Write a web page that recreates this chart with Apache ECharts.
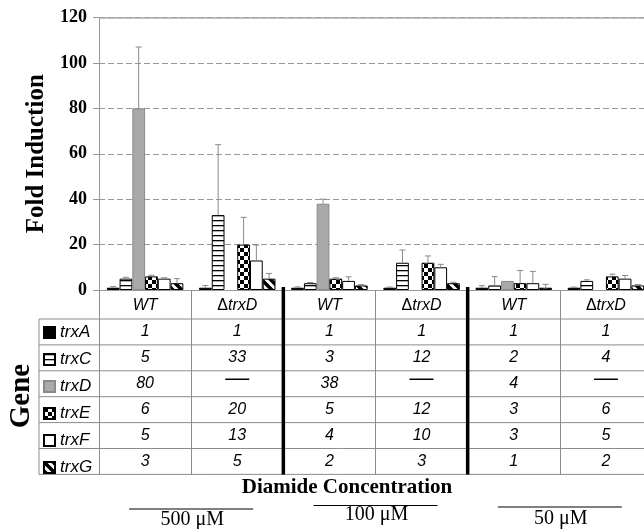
<!DOCTYPE html>
<html><head><meta charset="utf-8">
<script src="https://cdn.jsdelivr.net/npm/echarts@6/dist/echarts.min.js"></script>
<style>html,body{margin:0;padding:0;background:#fff}#c{width:644px;height:529px}</style>
</head><body><div id="c"></div>
<script>
// ---------- data ----------
const categories = ['WT', 'ΔtrxD', 'WT', 'ΔtrxD', 'WT', 'ΔtrxD'];
const genes = ['trxA', 'trxC', 'trxD', 'trxE', 'trxF', 'trxG'];
const trxA = [1, 1, 1, 1, 1, 1];
const trxC = [5, 33, 3, 12, 2, 4];
const trxD = [80, null, 38, null, 4, null];
const trxE = [6, 20, 5, 12, 3, 6];
const trxF = [5, 13, 4, 10, 3, 5];
const trxG = [3, 5, 2, 3, 1, 2];
// upper error (SD) read from the error-bar caps
const errA = [0.5, 1.0, 0.4, 0.3, 0.9, 0.3];
const errC = [0.6, 31, 0.3, 5.6, 3.9, 0.5];
const errD = [27, null, 2, null, 0, null];
const errE = [0.5, 12, 0.4, 3, 5.6, 1];
const errF = [0.4, 6.8, 1.8, 1.3, 5.2, 1.4];
const errG = [2, 2.3, 0.4, 0.4, 1.5, 0.4];
const concentrations = ['500 μM', '100 μM', '50 μM'];
const yMin = 0, yMax = 120, yStep = 20;

// ---------- styles ----------
const GAP = 0.17;
const SERIF = '"Liberation Serif","Times New Roman",serif';
const SANS = '"Liberation Sans",Arial,sans-serif';
function mk(w, h, draw) {
  const c = document.createElement('canvas'); c.width = w; c.height = h;
  const g = c.getContext('2d'); g.fillStyle = '#fff'; g.fillRect(0, 0, w, h); draw(g);
  return { image: c, repeat: 'repeat' };
}
const patC = mk(6, 5, g => { g.fillStyle = '#000'; g.fillRect(0, 0, 6, 1.3); });
const patE = mk(8, 8, g => { g.fillStyle = '#000'; g.fillRect(0, 0, 4, 4); g.fillRect(4, 4, 4, 4); });
const patG = mk(9, 9, g => { g.strokeStyle = '#000'; g.lineWidth = 3.5;
  for (const k of [-9, 0, 9]) { g.beginPath(); g.moveTo(k - 1, -1); g.lineTo(k + 10, 10); g.stroke(); } });

const vals = [trxA, trxC, trxD, trxE, trxF, trxG];
const errs = [errA, errC, errD, errE, errF, errG];
const fills = ['#000', patC, '#a9a9a9', patE, '#fff', patG];
const borders = ['#000', '#000', '#8a8a8a', '#000', '#000', '#000'];

const GRID_TOP = 17.5, GRID_BOTTOM_Y = 290, ROW0 = 319, ROW_H = 25.9;
const rowCenters = genes.map((g, i) => ROW0 + ROW_H * (i + 0.5));

const errData = [];
vals.forEach((arr, s) => arr.forEach((v, c) => {
  if (v != null && errs[s][c]) errData.push([c, v, errs[s][c], s]);
}));

const chart = echarts.init(document.getElementById('c'), null, { renderer: 'canvas' });

const rowAxes = genes.map((g, i) => ({
  type: 'category', gridIndex: 0, position: 'bottom',
  data: vals[i].map(v => v == null ? '—' : String(v)),
  axisLine: { show: false }, axisTick: { show: false }, splitLine: { show: false },
  axisLabel: {
    interval: 0, margin: rowCenters[i] - GRID_BOTTOM_Y - 8,
    fontFamily: SANS, fontStyle: 'italic', fontSize: 16, color: '#000',
    formatter: v => v === '—' ? '{d|—}' : v,
    rich: { d: { fontSize: 24, lineHeight: 6, fontFamily: SANS, color: '#000' } }
  }
}));

const option = {
  animation: false,
  backgroundColor: '#fff',
  grid: { left: 99, top: GRID_TOP, right: -8, bottom: 529 - GRID_BOTTOM_Y, outerBoundsMode: 'none', containLabel: false },
  legend: {
    orient: 'vertical', left: 43, top: rowCenters[0] - 8, itemWidth: 11, itemHeight: 11, itemGap: 10,
    padding: 0, icon: 'rect', selectedMode: false,
    data: genes.map(n => ({ name: n, icon: 'rect' })),
    textStyle: { fontFamily: SANS, fontStyle: 'italic', fontSize: 17, color: '#000' }
  },
  xAxis: [{
    type: 'category', gridIndex: 0, position: 'bottom', data: categories,
    axisLine: { lineStyle: { color: '#999', width: 1 } },
    axisTick: { show: true, interval: 0, length: 474.5 - GRID_BOTTOM_Y, lineStyle: { color: '#8c8c8c', width: 1 } },
    splitLine: { show: false },
    axisLabel: {
      interval: 0, margin: 8, fontFamily: SANS, fontSize: 16, color: '#000',
      formatter: v => v.startsWith('Δ') ? '{u|Δ}{i|' + v.slice(1) + '}' : '{i|' + v + '}',
      rich: {
        u: { fontFamily: SANS, fontSize: 16, color: '#000' },
        i: { fontFamily: SANS, fontSize: 16, fontStyle: 'italic', color: '#000' }
      }
    }
  }].concat(rowAxes),
  yAxis: {
    type: 'value', min: yMin, max: yMax, interval: yStep,
    name: 'Fold Induction', nameLocation: 'middle', nameGap: 43,
    nameTextStyle: { fontFamily: SERIF, fontWeight: 'bold', fontSize: 25, color: '#000' },
    axisLine: { show: true, lineStyle: { color: '#999' } },
    axisTick: { show: true, length: 6, lineStyle: { color: '#999' } },
    axisLabel: { margin: 12, fontFamily: SERIF, fontWeight: 'bold', fontSize: 18, color: '#000' },
    splitLine: { show: true, lineStyle: { color: '#999', type: [6, 3], width: 1 } }
  },
  series: genes.map((g, i) => ({
    type: 'bar', name: g, data: vals[i], barGap: '0%', barCategoryGap: (GAP * 100) + '%',
    itemStyle: { color: fills[i], borderColor: borders[i], borderWidth: 1 },
    emphasis: { disabled: true }, silent: true
  })).concat([{
    type: 'custom', name: 'err', data: errData, silent: true, z: 3,
    renderItem: (params, api) => {
      const c = api.value(0), v = api.value(1), e = api.value(2), s = api.value(3);
      const base = api.coord([c, v]); const top = api.coord([c, v + e]);
      const band = api.size([1, 0])[0];
      const inner = band * (1 - GAP), bw = inner / 6;
      const x = base[0] - inner / 2 + bw * (s + 0.5);
      return { type: 'group', children: [
        { type: 'line', shape: { x1: x, y1: base[1], x2: x, y2: top[1] }, style: { stroke: '#8a8a8a', lineWidth: 1 } },
        { type: 'line', shape: { x1: x - 3, y1: top[1], x2: x + 3, y2: top[1] }, style: { stroke: '#8a8a8a', lineWidth: 1 } }
      ] };
    },
    markLine: { silent: true, symbol: 'none', label: { show: false },
      lineStyle: { color: '#aaa', type: 'solid', width: 1.5 }, data: [{ yAxis: yMax }] }
  }])
};
chart.setOption(option);

// ---------- table frame & annotations (positions from the category axis) ----------
const cx = i => chart.convertToPixel({ xAxisIndex: 0 }, i);
const centers = categories.map((c, i) => cx(i));
const band = centers[1] - centers[0];
const boundary = i => centers[i] + band / 2; // right boundary of category i
const g = [];
for (let r = 0; r <= genes.length; r++) {
  const y = ROW0 + ROW_H * r;
  g.push({ type: 'line', shape: { x1: 39, y1: y, x2: 644, y2: y }, style: { stroke: '#8c8c8c', lineWidth: 1 }, silent: true });
}
g.push({ type: 'line', shape: { x1: 39, y1: ROW0, x2: 39, y2: ROW0 + ROW_H * genes.length }, style: { stroke: '#8c8c8c', lineWidth: 1 }, silent: true });
[1, 3].forEach(i => g.push({ type: 'line', shape: { x1: boundary(i), y1: 287, x2: boundary(i), y2: ROW0 + ROW_H * genes.length }, style: { stroke: '#000', lineWidth: 3.5 }, silent: true, z: 10 }));
g.push({ type: 'text', x: 22, y: 396, rotation: Math.PI / 2, silent: true,
  style: { text: 'Gene', x: 0, y: 0, textAlign: 'center', textVerticalAlign: 'middle', font: 'bold 29px ' + SERIF, fill: '#000' } });
g.push({ type: 'text', silent: true,
  style: { text: 'Diamide Concentration', x: 347, y: 488, textAlign: 'center', textVerticalAlign: 'middle', font: 'bold 21px ' + SERIF, fill: '#000' } });
const concLineY = [509, 505.5, 507], concTextY = [520, 515, 519];
concentrations.forEach((t, k) => {
  const bx = boundary(2 * k);
  g.push({ type: 'line', silent: true, shape: { x1: bx - 62, y1: concLineY[k], x2: bx + 62, y2: concLineY[k] }, style: { stroke: '#000', lineWidth: 1 } });
  g.push({ type: 'text', silent: true, style: { text: t, x: bx + 1, y: concTextY[k], textAlign: 'center', textVerticalAlign: 'middle', font: '20px ' + SERIF, fill: '#000' } });
});
chart.setOption({ graphic: { elements: g } });
</script></body></html>
